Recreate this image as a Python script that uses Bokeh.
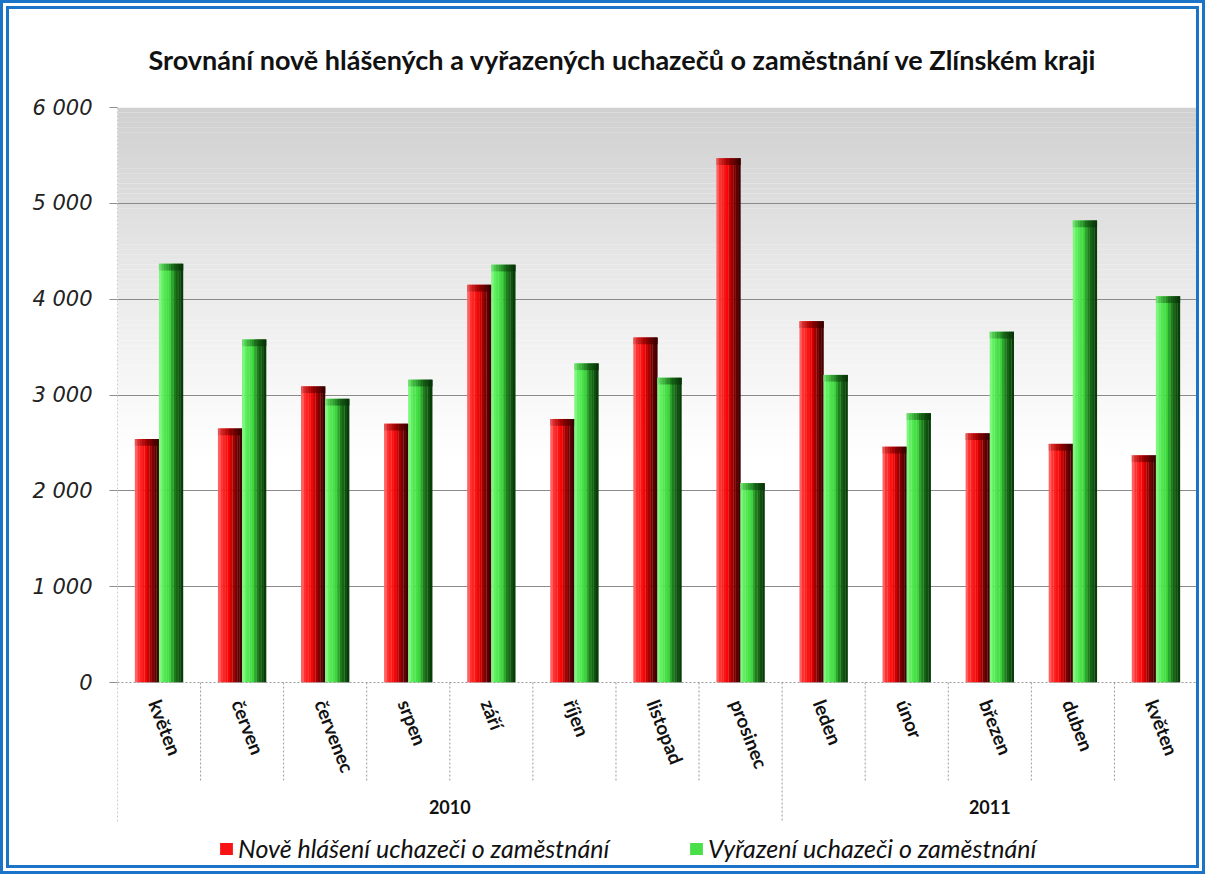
from bokeh.plotting import figure
from bokeh.models import (FactorRange, Range1d, FixedTicker, BoxAnnotation, Legend,
                          LegendItem, ColumnDataSource, Grid, Span)
from bokeh.transform import dodge
from bokeh.core.properties import value
from bokeh.embed import file_html
from bokeh.resources import INLINE

# ---------------- data ----------------
title_text = "Srovnání nově hlášených a vyřazených uchazečů o zaměstnání ve Zlínském kraji"
years = ["2010"] * 8 + ["2011"] * 5
months = ["květen", "červen", "červenec", "srpen", "září", "říjen", "listopad",
          "prosinec", "leden", "únor", "březen", "duben", "květen"]
new_applicants = [2540, 2650, 3090, 2700, 4150, 2750, 3600, 5470, 3770, 2460, 2600, 2490, 2370]
removed_applicants = [4370, 3580, 2960, 3160, 4360, 3330, 3180, 2080, 3210, 2810, 3660, 4820, 4030]
series_labels = ["Nově hlášení uchazeči o zaměstnání", "Vyřazení uchazeči o zaměstnání"]
y_ticks = [0, 1000, 2000, 3000, 4000, 5000, 6000]
y_tick_labels = ["0", "1 000", "2 000", "3 000", "4 000", "5 000", "6 000"]

# ---------------- geometry (page pixels) ----------------
B = 9                       # double border width (drawn inside the canvas box)
W = 1205
H = 874
ox, oy = 8, 8               # canvas origin on page
frame_left, frame_right, frame_top, zero_y = 116, 1196, 106, 681
frame_bottom = oy + H
y_max = 6000
ppu = (zero_y - frame_top) / y_max
y_min = -(frame_bottom - zero_y) / ppu


def val(page_y):
    return (zero_y - page_y) / ppu


FONT = "Lato"
factors = list(zip(years, months))
x_range = FactorRange(*factors, factor_padding=0, group_padding=0,
                      subgroup_padding=0, range_padding=0)

p = figure(width=W, height=H, x_range=x_range, y_range=Range1d(y_min, y_max),
           output_backend="svg", toolbar_location=None, x_axis_location=None,
           min_border_left=frame_left - ox, min_border_right=W - (frame_right - ox),
           min_border_top=frame_top - oy, min_border_bottom=0)
p.styles = {"border": f"{B}px double #1c74c8"}
p.outline_line_color = None
p.background_fill_color = "white"
p.border_fill_color = "white"
p.xgrid.visible = False
p.ygrid.visible = False

# title
p.title.text = title_text
p.title.text_font = FONT
p.title.text_font_size = "27px"
p.title.text_font_style = "bold"
p.title.text_color = "#111111"
p.title.align = "left"
p.title.offset = 31
p.title.vertical_align = "middle"
p.title.standoff = 62

# background gradient (grey at top fading to white)
n_bands = 70
g_bottom, g_top = 2300, y_max
step = (g_top - g_bottom) / n_bands
for i in range(n_bands):
    lo = g_bottom + i * step
    t = (i + 1) / n_bands
    c = int(round(255 - (255 - 208) * t ** 1.15))
    p.add_layout(BoxAnnotation(bottom=lo, top=lo + step + 1, fill_color=f"#{c:02x}{c:02x}{c:02x}",
                               fill_alpha=1, line_color=None, level="underlay"))

# grid lines
p.add_layout(Grid(dimension=1, ticker=FixedTicker(ticks=y_ticks[1:]),
                  grid_line_color="#8a8a8a", grid_line_width=1, level="underlay"))
p.add_layout(Span(location=0, dimension="width", line_color="#9a9a9a",
                  line_dash="2 2", line_width=1))

# y axis
ax = p.yaxis[0]
ax.ticker = FixedTicker(ticks=y_ticks)
ax.major_label_overrides = {t: l for t, l in zip(y_ticks, y_tick_labels)}
ax.axis_line_color = None
ax.major_tick_in = 0
ax.major_tick_out = 8
ax.major_tick_line_color = "#8f8f8f"
ax.minor_tick_line_color = None
ax.major_label_standoff = 17
ax.major_label_text_font = "DejaVu Sans"
ax.major_label_text_font_style = "italic"
ax.major_label_text_font_size = "21px"
ax.major_label_text_color = "#222222"

cap = 70  # height of the darker bevel at the top of each bar (data units)
src = ColumnDataSource(dict(x=factors, new=new_applicants, removed=removed_applicants,
                            new_cap=[v - cap for v in new_applicants],
                            removed_cap=[v - cap for v in removed_applicants],
                            month=months))

# bars drawn as vertical colour strips to imitate the shaded 3D look
red_stops = [(0.0, (255, 120, 120)), (0.15, (255, 50, 50)), (0.45, (245, 5, 5)),
             (0.62, (175, 0, 0)), (0.82, (100, 0, 0)), (1.0, (55, 0, 0))]
green_stops = [(0.0, (140, 250, 140)), (0.15, (95, 240, 95)), (0.45, (60, 215, 60)),
               (0.62, (30, 135, 30)), (0.82, (15, 85, 15)), (1.0, (6, 52, 6))]


def interp(stops, t, k=1.0):
    for (t0, c0), (t1, c1) in zip(stops, stops[1:]):
        if t0 <= t <= t1:
            f = (t - t0) / (t1 - t0) if t1 > t0 else 0
            return "#%02x%02x%02x" % tuple(int(round((a + (b - a) * f) * k)) for a, b in zip(c0, c1))
    return "#%02x%02x%02x" % tuple(int(round(c * k)) for c in stops[-1][1])


bar_w = 0.29
n_strips = 10
legend_renderers = []
for col, center, stops in (("new", -0.145, red_stops), ("removed", 0.145, green_stops)):
    sw = bar_w / n_strips
    rep = None
    for k in range(n_strips):
        off = center - bar_w / 2 + (k + 0.5) * sw
        tt = (k + 0.5) / n_strips
        r = p.vbar(x=dodge("x", off, range=p.x_range), top=col, bottom=0,
                   width=sw * 1.08, source=src, fill_color=interp(stops, tt), line_color=None)
        if k == 3:
            rep = r
        # top bevel: darker in the middle (pyramid-like cap)
        shade = 0.62 + 0.3 * abs(tt - 0.5) * 2
        p.vbar(x=dodge("x", off, range=p.x_range), top=col, bottom=col + "_cap",
               width=sw * 1.08, source=src, fill_color=interp(stops, tt, shade), line_color=None)
    legend_renderers.append(rep)

# category separators (dotted), month labels and year labels
n = len(factors)
sep_top = [y_max if i == 0 else 0 for i in range(n)]
sep_bot = [val(820) if (i == 0 or years[i] != years[i - 1]) else val(780) for i in range(n)]
sep_src = ColumnDataSource(dict(x=factors, y0=sep_top, y1=sep_bot))
p.segment(x0=dodge("x", -0.5, range=p.x_range), x1=dodge("x", -0.5, range=p.x_range),
          y0="y0", y1="y1", source=sep_src, line_color="#9a9a9a", line_dash="2 2")
end_src = ColumnDataSource(dict(x=[factors[-1]], y0=[0], y1=[val(820)]))
p.segment(x0=dodge("x", 0.5, range=p.x_range), x1=dodge("x", 0.5, range=p.x_range),
          y0="y0", y1="y1", source=end_src, line_color="#9a9a9a", line_dash="2 2")

p.text(x=dodge("x", -0.05, range=p.x_range), y=val(699), text="month", source=src,
       angle=-1.2, text_align="left", text_baseline="middle",
       text_font=value(FONT), text_font_style="bold", text_font_size="19px",
       text_color="#111111")

year_names = sorted(set(years))
p.text(x=year_names, y=[val(805)] * len(year_names), text=year_names,
       text_align="center", text_baseline="middle", text_font=value(FONT),
       text_font_style="bold", text_font_size="18px", text_color="#111111")

legend = Legend(items=[LegendItem(label=series_labels[0], renderers=[legend_renderers[0]]),
                       LegendItem(label=series_labels[1], renderers=[legend_renderers[1]])],
                orientation="horizontal", location=(101, 20), padding=0, margin=0,
                spacing=0, glyph_width=16, glyph_height=15, label_standoff=4,
                label_width=450, label_text_font=FONT, label_text_font_style="italic",
                label_text_font_size="25px", label_text_color="#111111",
                border_line_color=None, background_fill_alpha=0)
p.add_layout(legend)

open("out.html", "w").write(file_html(p, INLINE))
